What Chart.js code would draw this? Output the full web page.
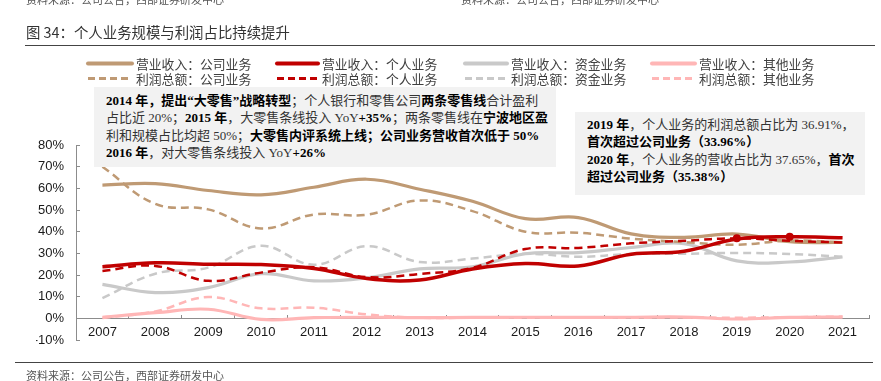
<!DOCTYPE html>
<html><head><meta charset="utf-8">
<script src="https://cdn.jsdelivr.net/npm/chart.js@4/dist/chart.umd.min.js"></script>
<style>
html,body{margin:0;padding:0;background:#fff;}
body{width:881px;height:381px;position:relative;overflow:hidden;font-family:"Noto Sans CJK SC",sans-serif;}
#c{position:absolute;left:0;top:0;z-index:1;}
.abs{position:absolute;white-space:nowrap;z-index:2;}
.src{font-size:11px;color:#555;line-height:12px;}
.title{left:26px;top:22px;font-size:14.4px;color:#333;line-height:19px;}
.rule{position:absolute;height:0;border-top:1.5px solid #444;z-index:2;}
.lg{font-size:12.8px;color:#404040;line-height:15px;}
.box{position:absolute;background:#F2F2F2;z-index:2;font-family:"Liberation Serif","Noto Sans CJK SC",serif;font-size:13px;line-height:17.3px;color:#333;white-space:nowrap;box-sizing:border-box;}
.box b{color:#000;font-weight:700;}
#lgsvg{position:absolute;left:0;top:0;z-index:2;}
</style>
</head><body>
<div class="abs src" style="left:26px;top:-7px;">资料来源：公司公告，西部证券研发中心</div>
<div class="abs src" style="left:461px;top:-7px;">资料来源：公司公告，西部证券研发中心</div>
<div class="abs title">图 34：个人业务规模与利润占比持续提升</div>
<div class="rule" style="left:25px;top:45px;width:850px;"></div>

<svg id="lgsvg" width="881" height="100"></svg>
<div id="lgtext"></div>

<div class="box" style="left:94px;top:87px;width:462px;height:80px;padding:5px 0 0 12px;">
<b>2014 年，提出“大零售”战略转型</b>；个人银行和零售公司<b>两条零售线</b>合计盈利<br>
占比近 20%；<b>2015 年</b>，大零售条线投入 YoY<b>+35%</b>；两条零售线在<b>宁波地区盈</b><br>
利和规模占比均超 50%；<b>大零售内评系统上线；公司业务营收首次低于 50%</b><br>
<b>2016 年</b>，对大零售条线投入 YoY<b>+26%</b>
</div>
<div class="box" style="left:575px;top:112px;width:290px;height:83px;padding:4px 0 0 12px;">
<b>2019 年</b>，个人业务的利润总额占比为 36.91%，<br>
<b>首次超过公司业务（33.96%）</b><br>
<b>2020 年</b>，个人业务的营收占比为 37.65%，<b>首次</b><br>
<b>超过公司业务（35.38%）</b>
</div>

<div class="rule" style="left:15px;top:362px;width:858px;"></div>
<div class="abs src" style="left:26px;top:369px;">资料来源：公司公告，西部证券研发中心</div>

<canvas id="c" width="881" height="381"></canvas>
<script>
const years = ['2007','2008','2009','2010','2011','2012','2013','2014','2015','2016','2017','2018','2019','2020','2021'];
const yTicks = [-10,0,10,20,30,40,50,60,70,80];
// 营业收入
const revCorp  = [61.5,62.2,59.0,57.0,60.5,64.2,59.6,54.0,46.0,46.5,39.0,37.4,38.9,35.38,35.0];
const revPers  = [23.8,25.6,25.0,24.8,23.0,18.4,17.7,22.8,25.3,24.2,29.6,31.0,36.6,37.65,37.2];
const revTreas = [15.7,11.9,14.2,20.6,17.3,18.7,22.8,23.8,29.8,30.3,32.7,34.5,26.5,26.0,28.3];
const revOther = [0.5,2.6,4.2,-0.5,0.3,0.5,0.3,0.4,0.5,0.4,0.5,0.6,-0.3,0.4,0.6];
// 利润总额
const profCorp  = [70.0,52.8,50.3,41.5,47.9,47.8,54.4,49.5,40.0,39.5,36.8,35.2,33.96,35.9,35.0];
const profPers  = [21.9,24.2,17.3,21.1,23.6,19.0,20.5,23.3,32.0,32.5,34.6,35.8,36.91,35.8,35.0];
const profTreas = [9.3,20.6,23.4,33.5,24.7,33.3,26.0,27.6,29.8,28.4,29.7,29.8,30.2,29.7,28.4];
const profOther = [0.2,3.2,9.8,4.6,4.9,1.8,0.3,0.3,0.3,0.3,0.3,0.4,0.3,0.5,0.8];

const labelsRev  = ['营业收入：公司业务','营业收入：个人业务','营业收入：资金业务','营业收入：其他业务'];
const labelsProf = ['利润总额：公司业务','利润总额：个人业务','利润总额：资金业务','利润总额：其他业务'];

const TAN='#BF9A74', RED='#C00000', GRAY='#C9C9C9', PINK='#FFB6B6';
const colors=[TAN,RED,GRAY,PINK];
const DASH=[8,5];

function marks(idx){ return years.map((_,i)=> i===idx ? 4 : 0); }

const datasets = [
  {label:labelsRev[1], data:revPers, borderColor:RED, borderWidth:3.5, pointRadius:marks(13), pointBackgroundColor:RED, pointBorderWidth:0},
  {label:labelsProf[1], data:profPers, borderColor:RED, borderWidth:2.5, borderDash:DASH, pointRadius:marks(12), pointBackgroundColor:RED, pointBorderWidth:0},
  {label:labelsRev[0], data:revCorp, borderColor:TAN, borderWidth:3.2},
  {label:labelsProf[0], data:profCorp, borderColor:TAN, borderWidth:2.5, borderDash:DASH},
  {label:labelsRev[2], data:revTreas, borderColor:GRAY, borderWidth:3.2},
  {label:labelsProf[2], data:profTreas, borderColor:GRAY, borderWidth:2.5, borderDash:DASH},
  {label:labelsRev[3], data:revOther, borderColor:PINK, borderWidth:3.2},
  {label:labelsProf[3], data:profOther, borderColor:PINK, borderWidth:2.5, borderDash:DASH}
];

new Chart(document.getElementById('c'), {
  type:'line',
  data:{labels:years, datasets:datasets},
  options:{
    responsive:false, animation:false,
    layout:{padding:{left:36,right:12,top:145,bottom:41}},
    plugins:{legend:{display:false}, tooltip:{enabled:false}},
    elements:{line:{tension:0.4, fill:false, borderCapStyle:'butt'}, point:{radius:0, hoverRadius:0}},
    scales:{
      x:{type:'category', position:{y:0}, offset:true,
        grid:{drawOnChartArea:false, drawTicks:true, tickLength:-4, offset:true, color:'#8c8c8c'},
        border:{display:true, color:'#8c8c8c', width:1},
        ticks:{font:{family:'Liberation Sans', size:13}, color:'#1a1a1a', padding:10, maxRotation:0, autoSkip:false},
        afterFit(s){ s.height = 10; }
      },
      y:{min:-10, max:80,
        afterBuildTicks(s){ s.ticks = yTicks.map(v=>({value:v})); },
        ticks:{callback:v=>v+'%', font:{family:'Liberation Sans', size:13}, color:'#1a1a1a', padding:16},
        grid:{drawOnChartArea:false, drawTicks:true, tickLength:-4, color:'#8c8c8c'},
        border:{display:true, color:'#8c8c8c', width:1},
        afterFit(s){ s.width = 40; }
      }
    }
  }
});

// legend (HTML/SVG)
const colX = [[88,132,136],[277,318,322],[465,507,511],[652,695,699]];
const rowY = [63.5,78.5];
const svg = document.getElementById('lgsvg');
const lt = document.getElementById('lgtext');
let svgHtml='', txtHtml='';
[labelsRev, labelsProf].forEach((labs,r)=>{
  labs.forEach((t,c)=>{
    const [x1,x2,tx]=colX[c];
    const y=rowY[r];
    if(r===0){
      svgHtml += `<line x1="${x1}" y1="${y}" x2="${x2}" y2="${y}" stroke="${colors[c]}" stroke-width="4" stroke-linecap="round"/>`;
    } else {
      svgHtml += `<line x1="${x1}" y1="${y}" x2="${x2}" y2="${y}" stroke="${colors[c]}" stroke-width="2.8" stroke-dasharray="7 4"/>`;
    }
    txtHtml += `<div class="abs lg" style="left:${tx}px;top:${y-8}px;">${t}</div>`;
  });
});
svg.innerHTML = svgHtml;
lt.innerHTML = txtHtml;
</script>
</body></html>
